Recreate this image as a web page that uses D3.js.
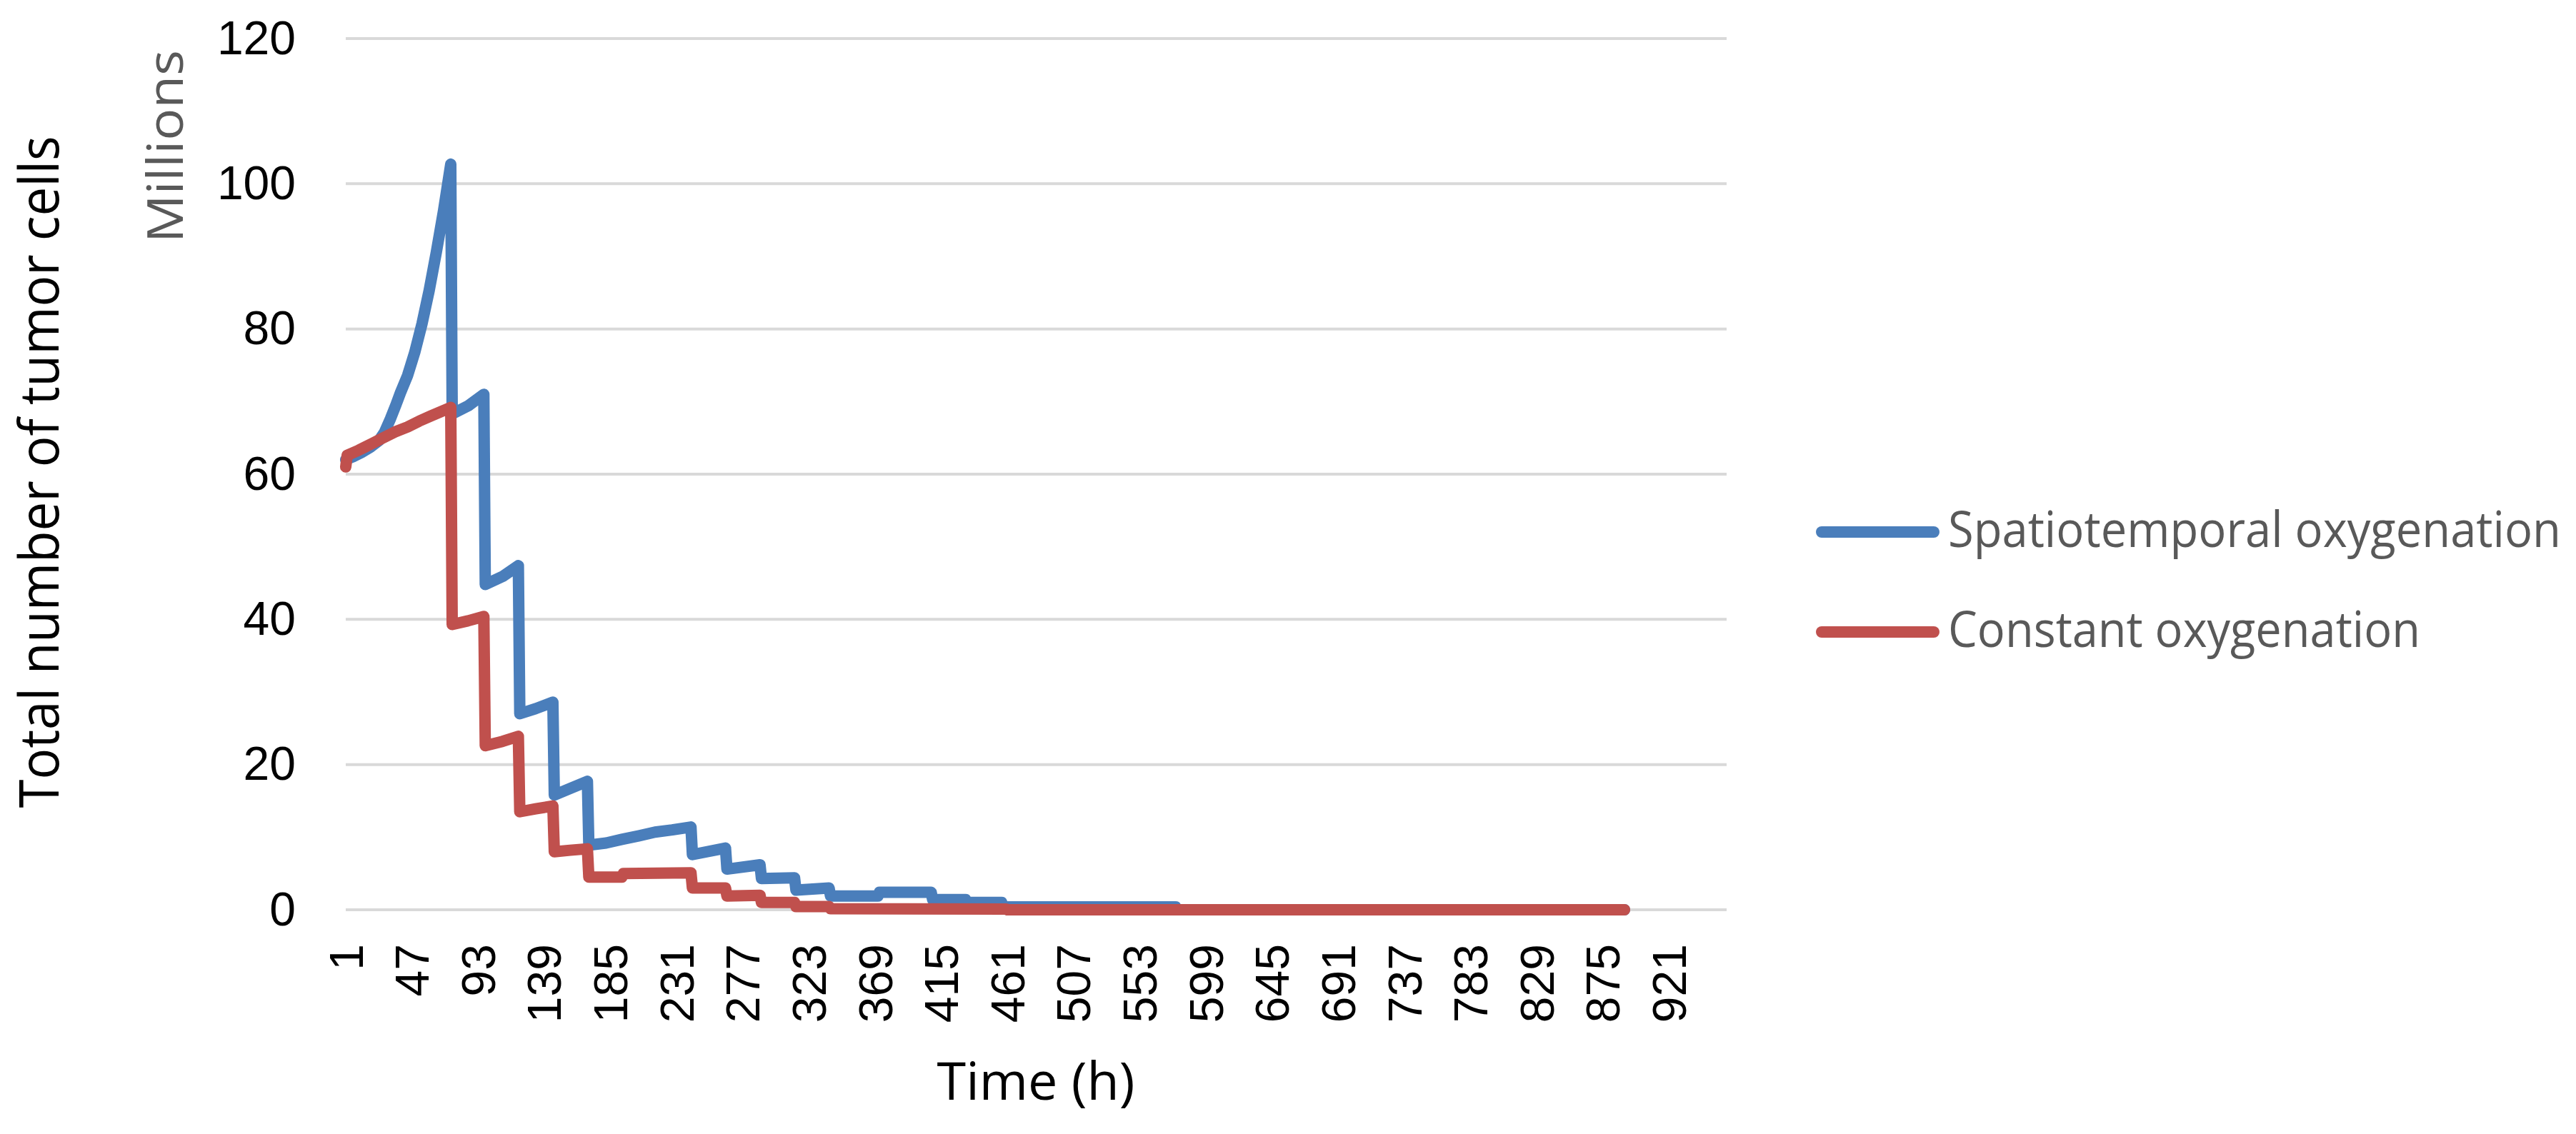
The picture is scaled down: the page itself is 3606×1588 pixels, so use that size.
<!DOCTYPE html>
<html>
<head>
<meta charset="utf-8">
<script src="https://cdn.jsdelivr.net/npm/d3@7"></script>
<style>
  html, body { margin: 0; padding: 0; background: #ffffff; }
  svg { display: block; }
</style>
</head>
<body>
<div id="chart"></div>
<script>
// ---------- DATA ----------
const xTicks = [1, 47, 93, 139, 185, 231, 277, 323, 369, 415, 461, 507, 553, 599, 645, 691, 737, 783, 829, 875, 921];
const yTicks = [0, 20, 40, 60, 80, 100, 120];

const seriesNames = ["Spatiotemporal oxygenation", "Constant oxygenation"];

// Spatiotemporal oxygenation (millions of cells) at hour
const blueHours = [1, 6, 12, 18, 24, 28, 32, 36, 39, 44, 49, 54, 59, 64, 69, 74,
  75, 86, 97,
  98, 110, 121,
  122, 133, 145,
  146, 157, 169,
  170, 182, 193, 205, 216, 228, 241,
  242, 265,
  266, 289,
  290, 313,
  314, 337,
  338, 371,
  372, 408,
  409, 432,
  433, 457,
  458, 578,
  579, 890];
const blueValues = [62.0, 62.4, 63.0, 63.7, 64.6, 65.8, 67.6, 69.6, 71.2, 73.6, 76.8, 80.7, 85.3, 90.6, 96.3, 102.7,
  68.3, 69.4, 71.0,
  44.8, 45.9, 47.4,
  27.0, 27.7, 28.6,
  15.8, 16.7, 17.7,
  8.9, 9.2, 9.7, 10.2, 10.7, 11.0, 11.4,
  7.6, 8.5,
  5.6, 6.2,
  4.3, 4.4,
  2.7, 3.0,
  1.9, 1.9,
  2.4, 2.4,
  1.4, 1.4,
  1.0, 1.0,
  0.4, 0.4,
  0.0, 0.0];

// Constant oxygenation (millions of cells) at hour
const redHours = [1, 2, 10, 20, 27, 35, 44, 52, 60, 67, 74,
  75, 86, 97,
  98, 110, 121,
  122, 133, 145,
  146, 157, 169,
  170, 193,
  194, 241,
  242, 265,
  266, 289,
  290, 313,
  314, 337,
  338, 460,
  461, 890];
const redValues = [61.0, 62.6, 63.3, 64.3, 65.0, 65.8, 66.5, 67.3, 68.0, 68.6, 69.2,
  39.3, 39.8, 40.4,
  22.6, 23.2, 23.9,
  13.5, 13.9, 14.3,
  8.0, 8.2, 8.4,
  4.5, 4.5,
  5.0, 5.1,
  3.0, 3.0,
  1.9, 2.0,
  1.0, 1.0,
  0.45, 0.45,
  0.15, 0.1,
  0.0, 0.0];

// ---------- LAYOUT ----------
const W = 3606, H = 1588;
const plot = { left: 484, right: 2417, top: 54, bottom: 1274 };
const colors = ["#4a7ebb", "#c0504d"];
const numFont = "'Liberation Sans', Arial, sans-serif";
const textFont = "'Liberation Sans Narrow', 'Open Sans', 'Liberation Sans', sans-serif";

const svg = d3.select("#chart").append("svg")
  .attr("width", W).attr("height", H)
  .attr("viewBox", `0 0 ${W} ${H}`);
svg.append("rect").attr("width", W).attr("height", H).attr("fill", "#ffffff");

const x = d3.scaleLinear().domain([1, 961]).range([plot.left, plot.right]);
const y = d3.scaleLinear().domain([0, 120]).range([plot.bottom, plot.top]);

// gridlines
svg.append("g")
  .selectAll("line").data(yTicks).join("line")
  .attr("x1", plot.left).attr("x2", plot.right)
  .attr("y1", d => y(d)).attr("y2", d => y(d))
  .attr("stroke", "#d9d9d9").attr("stroke-width", 4);

// y axis
const yAxis = svg.append("g")
  .attr("transform", `translate(${plot.left},0)`)
  .call(d3.axisLeft(y).tickValues(yTicks).tickSize(0).tickPadding(70).tickFormat(d3.format("d")));
yAxis.select(".domain").remove();
yAxis.selectAll("text")
  .attr("font-family", numFont).attr("font-size", 66).attr("fill", "#000000");

// x axis
const xAxis = svg.append("g")
  .attr("transform", `translate(0,${plot.bottom})`)
  .call(d3.axisBottom(x).tickValues(xTicks).tickSize(0).tickFormat(d3.format("d")));
xAxis.select(".domain").remove();
xAxis.selectAll("text")
  .attr("font-family", numFont).attr("font-size", 66).attr("fill", "#000000")
  .attr("transform", "rotate(-90)")
  .attr("text-anchor", "end")
  .attr("x", -48).attr("y", 0).attr("dy", "0.35em");

// series lines
const line = d3.line().x(d => x(d[0])).y(d => y(d[1]));
const series = [
  d3.zip(blueHours, blueValues),
  d3.zip(redHours, redValues)
];
svg.append("g").selectAll("path").data(series).join("path")
  .attr("d", d => line(d))
  .attr("fill", "none")
  .attr("stroke", (d, i) => colors[i])
  .attr("stroke-width", 16)
  .attr("stroke-linejoin", "round")
  .attr("stroke-linecap", "round");

// axis titles
svg.append("text")
  .attr("transform", "translate(82,661) rotate(-90)")
  .attr("text-anchor", "middle")
  .attr("font-family", textFont).attr("font-size", 76).attr("fill", "#000000")
  .attr("textLength", 941).attr("lengthAdjust", "spacingAndGlyphs")
  .text("Total number of tumor cells");

svg.append("text")
  .attr("transform", "translate(256,205) rotate(-90)")
  .attr("text-anchor", "middle")
  .attr("font-family", textFont).attr("font-size", 70).attr("fill", "#595959")
  .attr("textLength", 270).attr("lengthAdjust", "spacingAndGlyphs")
  .text("Millions");

svg.append("text")
  .attr("x", 1450).attr("y", 1540)
  .attr("text-anchor", "middle")
  .attr("font-family", textFont).attr("font-size", 74).attr("fill", "#000000")
  .attr("textLength", 277).attr("lengthAdjust", "spacingAndGlyphs")
  .text("Time (h)");

// legend
const legendY = [745, 885];
const legendW = [858, 661];
const lg = svg.append("g");
seriesNames.forEach((name, i) => {
  lg.append("line")
    .attr("x1", 2550).attr("x2", 2707)
    .attr("y1", legendY[i]).attr("y2", legendY[i])
    .attr("stroke", colors[i]).attr("stroke-width", 16)
    .attr("stroke-linecap", "round");
  lg.append("text")
    .attr("x", 2727).attr("y", legendY[i] + 21)
    .attr("font-family", textFont).attr("font-size", 70).attr("fill", "#595959")
    .attr("textLength", legendW[i]).attr("lengthAdjust", "spacingAndGlyphs")
    .text(name);
});
</script>
</body>
</html>
